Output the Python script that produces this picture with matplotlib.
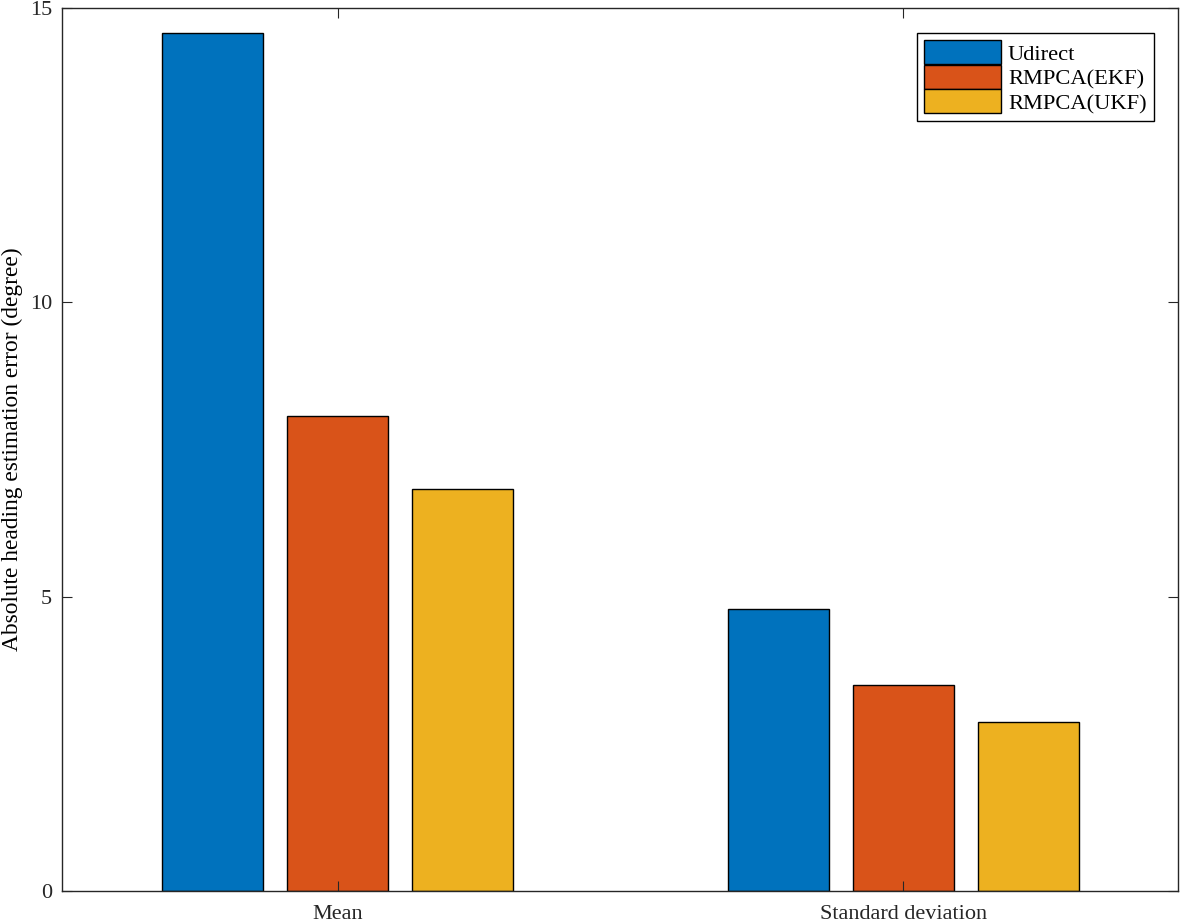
import matplotlib
matplotlib.use("Agg")
import matplotlib.pyplot as plt
import numpy as np

categories = ["Mean", "Standard deviation"]
series_names = ["Udirect", "RMPCA(EKF)", "RMPCA(UKF)"]
udirect = [14.57, 4.79]
ekf = [8.07, 3.50]
ukf = [6.83, 2.87]
colors = ["#0072BD", "#D95319", "#EDB120"]
yticks = [0, 5, 10, 15]

plt.rcParams["font.family"] = ["Liberation Serif", "DejaVu Serif"]

fig = plt.figure(figsize=(11.81, 9.24), dpi=100)
ax = fig.add_axes([62/1181, 33/924, 1116/1181, 883/924])

x = np.arange(1, len(categories) + 1)
width = 0.1786
offset = 0.221
for i, (vals, name, c) in enumerate(zip([udirect, ekf, ukf], series_names, colors)):
    ax.bar(x + (i - 1) * offset, vals, width, color=c, edgecolor="black",
           linewidth=1.0, label=name)

ax.set_xlim(0.512, 2.486)
ax.set_ylim(0, 15)
ax.set_xticks(x)
ax.set_xticklabels(categories, fontsize=16)
ax.set_yticks(yticks)
ax.set_yticklabels([str(t) for t in yticks], fontsize=16)
ax.set_ylabel("Absolute heading estimation error (degree)", fontsize=16.8, labelpad=5)
ax.tick_params(direction="in", top=True, right=True, length=7, width=0.8,
               color="#262626", labelcolor="#262626", pad=7)
ax.tick_params(axis="x", pad=10)
for s in ax.spines.values():
    s.set_color("#262626")
    s.set_linewidth(1.0)

leg = ax.legend(loc="upper right", bbox_to_anchor=(0.9785, 0.9717),
                borderaxespad=0, fontsize=16.2, handlelength=3.4,
                handleheight=1.26, labelspacing=0.0, handletextpad=0.32,
                borderpad=0.33, fancybox=False, framealpha=1.0,
                edgecolor="black")
leg.get_frame().set_linewidth(1.0)

fig.savefig("out.png", dpi=100)
